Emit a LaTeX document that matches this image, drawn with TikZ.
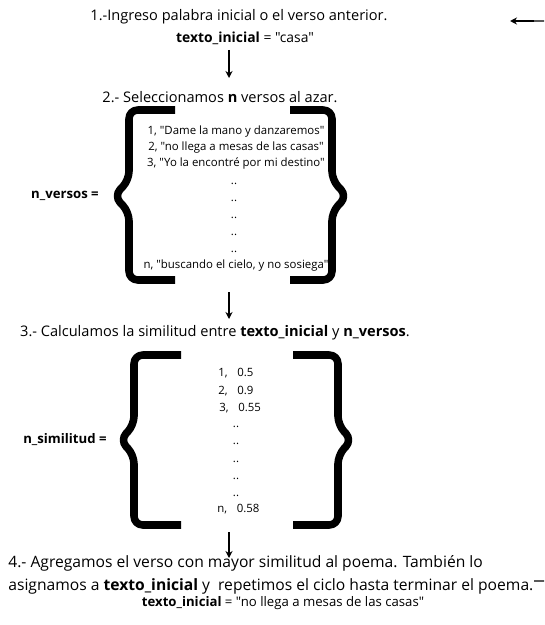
\documentclass[tikz,border=0pt]{standalone}
\usepackage{fontspec}
\setmainfont{Open Sans}[Ligatures=TeXOff]
\usetikzlibrary{arrows.meta}

\tikzset{
  paso/.style={inner sep=0pt,font=\fontsize{8.3}{10}\selectfont},
  dato/.style={inner sep=0pt,font=\fontsize{6.5}{8}\selectfont},
  etiqueta/.style={inner sep=0pt,font=\fontsize{7.5}{9}\selectfont\bfseries},
  llave/.style={line width=4.3pt,rounded corners=5pt,line join=round},
  flecha/.style={line width=0.9pt,-{Stealth[length=4pt,width=4pt]}}
}

\begin{document}
\begin{tikzpicture}[x=0.02cm,y=-0.02cm]
  \useasboundingbox (0,0) rectangle (544,625);
  % paso 1
  \node[paso] (paso1) at (239,17) {1.-Ingreso palabra inicial o el verso anterior.};
  \node[dato,font=\fontsize{7.9}{9}\selectfont] (valor1) at (245,38) {\textbf{texto\_inicial} = "casa"};
  \coordinate (f1a) at (229,50);
  \coordinate (f1b) at (229,78);
  \draw[flecha] (f1a) -- (f1b);
  % paso 2
  \node[paso] (paso2) at (220,97) {2.- Seleccionamos \textbf{n} versos al azar.};
  \draw[llave] (175,110) -- (129,110) -- (129,180) -- (114,196) -- (129,212) -- (129,280) -- (175,280);
  \draw[llave] (290,110) -- (332,110) -- (332,180) -- (347,196) -- (332,212) -- (332,280) -- (290,280);
  \node[etiqueta] (nversos) at (65,196) {n\_versos =};
  \node[dato] (verso1) at (236,132) {1, "Dame la mano y danzaremos"};
  \node[dato] (verso2) at (236,148) {2, "no llega a mesas de las casas"};
  \node[dato] (verso3) at (236,163) {3, "Yo la encontré por mi destino"};
  \foreach \y in {184,201,218,235,252}
    \node[dato] at (234,\y) {..};
  \node[dato] (versoN) at (236,266) {n, "buscando el cielo, y no sosiega"};
  \coordinate (f2a) at (229,292);
  \coordinate (f2b) at (229,319);
  \draw[flecha] (f2a) -- (f2b);
  % paso 3
  \node[paso] (paso3) at (215,333) {3.- Calculamos la similitud entre \textbf{texto\_inicial} y \textbf{n\_versos}.};
  \draw[llave] (181,355) -- (134,355) -- (134,425) -- (120,440) -- (134,455) -- (134,525) -- (181,525);
  \draw[llave] (293,355) -- (338,355) -- (338,425) -- (352,440) -- (338,455) -- (338,525) -- (293,525);
  \node[etiqueta] (nsimilitud) at (65,440) {n\_similitud =};
  \foreach \num/\val/\x/\y in {1/0.5/218/373,2/0.9/218/391,3/0.55/219/408,n/0.58/217/509}
    \node[dato,anchor=west] (sim\num) at (\x,\y) {\num,\hspace{5.5pt}\val};
  \foreach \y in {427,444,462,479,496}
    \node[dato] at (236,\y) {..};
  \coordinate (f3a) at (229,532);
  \coordinate (f3b) at (229,558);
  \draw[flecha] (f3a) -- (f3b);
  % paso 4
  \node[paso,font=\fontsize{8.9}{13}\selectfont,anchor=west,align=left] (paso4) at (8,575)
    {4.- Agregamos el verso con mayor similitud al poema. También lo\\
     asignamos a \textbf{texto\_inicial} y\ \ repetimos el ciclo hasta terminar el poema.};
  \node[dato,font=\fontsize{7.5}{9}\selectfont] (valor4) at (283,603) {\textbf{texto\_inicial} = "no llega a mesas de las casas"};
  % retorno
  \coordinate (ret1) at (534,581);
  \coordinate (ret2) at (534,21);
  \coordinate (ret3) at (510,21);
  \begin{scope}
    \clip (0,0) rectangle (544,625);
    \draw[line width=1.2pt,black!65] (ret1) -- (560,581) -- (560,21) -- (ret2);
  \end{scope}
  \draw[line width=1.2pt,-{Stealth[length=4pt,width=4pt]}] (ret2) -- (ret3);
\end{tikzpicture}
\end{document}
